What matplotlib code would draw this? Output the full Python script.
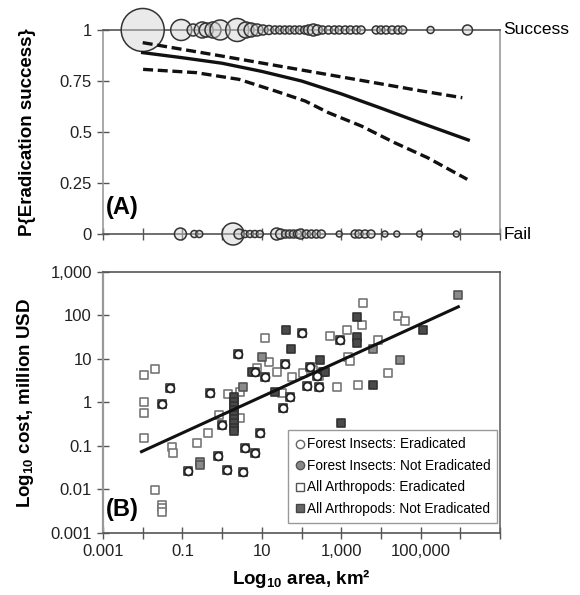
import numpy as np
import matplotlib.pyplot as plt
from matplotlib.lines import Line2D
from matplotlib.ticker import FixedLocator, FixedFormatter, NullLocator

plt.rcParams['font.family'] = ['Liberation Sans', 'DejaVu Sans']
plt.rcParams['mathtext.fontset'] = 'custom'
plt.rcParams['mathtext.rm'] = 'Liberation Sans:bold'
plt.rcParams['mathtext.default'] = 'rm'

# ---- panel A data: log10 area of each outcome, bubble weight (radius) ----
success_log_area = [-2.0, -1.03, -0.73, -0.5, -0.4, -0.23, -0.05, 0.38, 0.6, 0.73,
                    0.88, 1.03, 1.18, 1.33, 1.45, 1.58, 1.7, 1.83, 1.95, 2.08,
                    2.18, 2.3, 2.4, 2.53, 2.68, 2.83, 2.95, 3.1, 3.23, 3.38,
                    3.5, 3.88, 4.0, 4.13, 4.28, 4.43, 4.55, 5.25, 6.18]
success_weight = [21.5, 10.5, 6, 8, 7, 8, 10, 11.5, 8, 7,
                  6, 5, 4.5, 4, 4, 4, 4, 4, 4, 4,
                  5, 6, 5, 4, 4, 4, 4, 4, 4, 4,
                  4, 4, 4, 4, 4, 4, 4, 3.5, 5]
fail_log_area = [-1.05, -0.7, -0.575, 0.275, 0.425, 0.575, 0.7, 0.825, 0.95, 1.375,
                 1.475, 1.6, 1.7, 1.8, 1.9, 1.975, 2.125, 2.25, 2.375, 2.5,
                 2.95, 3.35, 3.45, 3.6, 3.75, 4.1, 4.4, 4.975, 5.9]
fail_weight = [6, 3.5, 3.5, 11, 5, 3.5, 3.5, 3.5, 3.5, 6,
               5, 4, 4, 4, 4, 5, 4, 4, 4, 4,
               3, 4, 4, 4, 4, 3, 3, 3, 3]

fit_log_area = [-2, -1, 0, 1, 2, 3, 4, 5, 6, 6.2]
fit_p = [0.889, 0.864, 0.837, 0.797, 0.750, 0.687, 0.617, 0.545, 0.475, 0.461]
upper_log_area = [-2, -1, 0, 1, 2, 3, 4, 5, 6.05]
upper_p = [0.938, 0.905, 0.872, 0.838, 0.804, 0.770, 0.736, 0.702, 0.668]
lower_log_area = [-1.99, -0.66, 0.425, 1.34, 2.09, 2.675, 3.51, 4.34, 5.175, 6.175]
lower_p = [0.807, 0.791, 0.758, 0.701, 0.652, 0.595, 0.529, 0.448, 0.374, 0.268]

# ---- panel B data: log10 area, log10 cost ----
arth_erad_x = [3.56, 4.44, 4.61, 3.52, 3.14, 1.08, 2.72, 3.93, 1.19, 3.18,
               3.22, 0.87, 1.38, 2.30, 2.05, 1.77, 2.45, 4.19, -1.98, -1.69,
               0.16, 0.45, 1.50, 2.90, 3.43, -1.98, -1.98, -0.07, 0.45, -1.98,
               -1.27, -1.23, -0.64, -0.35, -1.69, -1.52, -1.52, -1.52]
arth_erad_y = [2.28, 1.99, 1.88, 1.78, 1.67, 1.48, 1.53, 1.44, 0.94, 1.05,
               0.95, 0.79, 0.71, 0.75, 0.67, 0.59, 0.61, 0.67, 0.63, 0.76,
               0.19, 0.25, 0.21, 0.36, 0.40, 0.00, -0.25, -0.29, -0.36, -0.82,
               -1.02, -1.15, -0.92, -0.71, -2.01, -2.36, -2.43, -2.51]
forest_erad_x = [2.0, 2.97, 0.41, 1.58, 0.82, 2.21, 1.08, 2.38, -1.31, -0.30,
                 1.71, 2.13, 2.45, -1.52, 1.54, -0.01, 0.95, 0.58, 0.83, -0.10,
                 -0.85, 0.12, 0.53]
forest_erad_y = [1.60, 1.44, 1.11, 0.88, 0.71, 0.81, 0.59, 0.61, 0.33, 0.21,
                 0.13, 0.38, 0.36, -0.04, -0.13, -0.52, -0.71, -1.05, -1.17, -1.23,
                 -1.57, -1.55, -1.59]
arth_not_x = [3.41, 5.07, 1.61, 3.39, 3.41, 1.74, 2.47, 2.55, 2.60, 3.81,
              2.99, 1.33, 0.75, 0.30, 0.30, 0.30, 0.30, 0.30, 0.30, 0.30,
              0.30, 0.30]
arth_not_y = [1.97, 1.67, 1.67, 1.50, 1.37, 1.22, 0.98, 0.71, 0.69, 0.40,
              -0.48, 0.23, 0.71, 0.12, 0.02, -0.08, -0.18, -0.28, -0.38, -0.48,
              -0.58, -0.66]
forest_not_x = [5.95, 3.81, 1.0, 4.48, 0.53, -0.56, -0.56]
forest_not_y = [2.46, 1.22, 1.05, 0.98, 0.36, -1.36, -1.44]

cost_fit_log_area = [-2.03, 5.95]
cost_fit_log_cost = [-1.13, 2.20]

legend_labels = ['Forest Insects: Eradicated', 'Forest Insects: Not Eradicated',
                 'All Arthropods: Eradicated', 'All Arthropods: Not Eradicated']


def pow10(v):
    return 10.0 ** np.asarray(v, dtype=float)


fig = plt.figure(figsize=(5.8, 5.95), dpi=100)
axA = fig.add_axes([0.1776, 0.6067, 0.6845, 0.3429])
axB = fig.add_axes([0.1776, 0.1042, 0.6845, 0.4387])

decades = [10.0 ** k for k in range(-3, 8)]

# ---------------- panel A ----------------
axA.set_xscale('log')
axA.set_xlim(1e-3, 1e7)
axA.set_ylim(0, 1)
axA.xaxis.set_major_locator(FixedLocator(decades))
axA.xaxis.set_minor_locator(NullLocator())
axA.set_xticklabels([])
axA.set_yticks([0, 0.25, 0.5, 0.75, 1])
axA.set_yticklabels(['0', '0.25', '0.5', '0.75', '1'])
axA.tick_params(axis='both', direction='inout', length=9, width=1, colors='#555',
                labelcolor='#222', labelsize=12)
for side in ['left', 'right']:
    axA.spines[side].set_color('#999')
    axA.spines[side].set_linewidth(1.2)
for side in ['top', 'bottom']:
    axA.spines[side].set_color('#555')
    axA.spines[side].set_linewidth(1.2)

rpt = 0.72
axA.scatter(pow10(success_log_area), np.ones(len(success_log_area)),
            s=(2 * rpt * np.array(success_weight)) ** 2,
            facecolor=(0.82, 0.82, 0.82, 0.45), edgecolor='#333', linewidth=1.1,
            clip_on=False, zorder=3)
axA.scatter(pow10(fail_log_area), np.zeros(len(fail_log_area)),
            s=(2 * rpt * np.array(fail_weight)) ** 2,
            facecolor=(0.82, 0.82, 0.82, 0.45), edgecolor='#333', linewidth=1.1,
            clip_on=False, zorder=3)

axA.plot(pow10(fit_log_area), fit_p, color='#111', lw=2.4, zorder=4)
axA.plot(pow10(upper_log_area), upper_p, color='#111', lw=2.4, ls=(0, (3, 1.4)), zorder=4)
axA.plot(pow10(lower_log_area), lower_p, color='#111', lw=2.4, ls=(0, (3, 1.4)), zorder=4)

axA.text(1.008, 1.0, 'Success', transform=axA.transAxes, fontsize=12.5,
         va='center', ha='left')
axA.text(1.008, 0.0, 'Fail', transform=axA.transAxes, fontsize=12.5,
         va='center', ha='left')
axA.text(0.008, 0.075, '(A)', transform=axA.transAxes, fontsize=17,
         fontweight='bold', va='bottom', ha='left')
axA.set_ylabel('P{Eradication success}', fontsize=13.5, fontweight='bold')
axA.yaxis.set_label_coords(-0.17, 0.5)

# ---------------- panel B ----------------
axB.set_xscale('log')
axB.set_yscale('log')
axB.set_xlim(1e-3, 1e7)
axB.set_ylim(1e-3, 1e3)
axB.xaxis.set_major_locator(FixedLocator(decades))
axB.xaxis.set_minor_locator(NullLocator())
xlabels = ['0.001', '', '0.1', '', '10', '', '1,000', '', '100,000', '', '']
axB.xaxis.set_major_formatter(FixedFormatter(xlabels))
ydecades = [10.0 ** k for k in range(-3, 4)]
axB.yaxis.set_major_locator(FixedLocator(ydecades))
axB.yaxis.set_minor_locator(NullLocator())
axB.yaxis.set_major_formatter(FixedFormatter(['0.001', '0.01', '0.1', '1', '10', '100', '1,000']))
axB.tick_params(axis='both', direction='inout', length=9, width=1, colors='#555',
                labelcolor='#222', labelsize=12)
axB.spines['left'].set_color('#999')
axB.spines['left'].set_linewidth(1.6)
axB.spines['right'].set_color('#666')
axB.spines['right'].set_linewidth(1.2)
axB.spines['top'].set_color('#555')
axB.spines['top'].set_linewidth(1.2)
axB.spines['bottom'].set_color('#555')
axB.spines['bottom'].set_linewidth(1.2)

msq = 36
axB.scatter(pow10(arth_erad_x), pow10(arth_erad_y), marker='s', s=msq,
            facecolor='white', edgecolor='#777', linewidth=1.2, zorder=3)
axB.scatter(pow10(forest_erad_x), pow10(forest_erad_y), marker='s', s=msq,
            facecolor='white', edgecolor='#444', linewidth=1.3, zorder=3)
axB.scatter(pow10(forest_erad_x), pow10(forest_erad_y), marker='o', s=msq * 0.9,
            facecolor='white', edgecolor='#222', linewidth=1.3, zorder=4)
axB.scatter(pow10(forest_not_x), pow10(forest_not_y), marker='s', s=msq,
            facecolor='#8a8a8a', edgecolor='#555', linewidth=1.2, zorder=3)
axB.scatter(pow10(arth_not_x), pow10(arth_not_y), marker='s', s=msq,
            facecolor='#4a4a4a', edgecolor='#333', linewidth=1.2, zorder=3)

axB.plot(pow10(cost_fit_log_area), pow10(cost_fit_log_cost), color='#111', lw=2.2, zorder=5)

handles = [
    Line2D([], [], ls='none', marker='o', ms=6, mfc='white', mec='#666', mew=1),
    Line2D([], [], ls='none', marker='o', ms=6, mfc='#888', mec='#555', mew=1),
    Line2D([], [], ls='none', marker='s', ms=6, mfc='white', mec='#555', mew=1),
    Line2D([], [], ls='none', marker='s', ms=6, mfc='#666', mec='#444', mew=1),
]
leg = axB.legend(handles, legend_labels, loc='lower right', bbox_to_anchor=(0.993, 0.04),
                 borderaxespad=0, fontsize=9.8, handlelength=0.7, handletextpad=0.15,
                 labelspacing=0.55, borderpad=0.5, fancybox=False, framealpha=1)
leg.get_frame().set_edgecolor('#999')
leg.get_frame().set_linewidth(1)

axB.text(0.008, 0.09, '(B)', transform=axB.transAxes, fontsize=17,
         fontweight='bold', va='center', ha='left')
axB.set_ylabel(r'Log$_{10}$ cost, million USD', fontsize=13.5, fontweight='bold')
axB.yaxis.set_label_coords(-0.17, 0.5)
axB.set_xlabel(r'Log$_{10}$ area, km²', fontsize=13.5, fontweight='bold', labelpad=6)

fig.savefig('out.png', dpi=100)
